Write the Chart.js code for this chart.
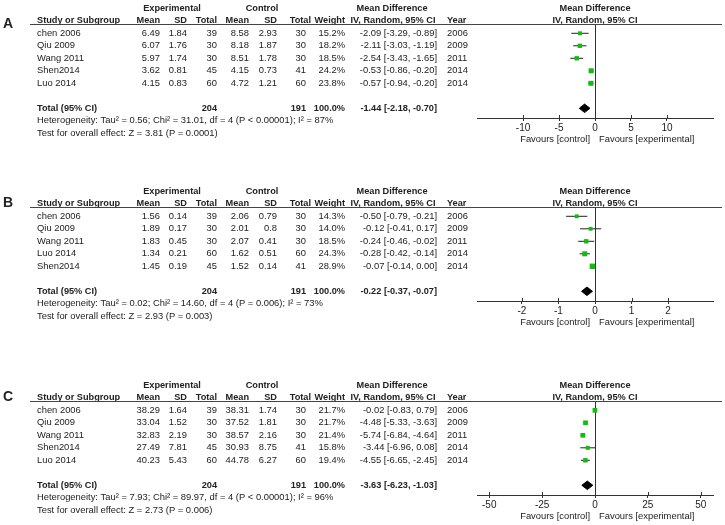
<!DOCTYPE html>
<html>
<head>
<meta charset="utf-8">
<script src="https://cdn.jsdelivr.net/npm/chart.js@4.4.1/dist/chart.umd.min.js"></script>
<style>
  body { margin:0; background:#fff; width:725px; height:525px; overflow:hidden; position:relative; }
  canvas { position:absolute; left:0; }
</style>
</head>
<body>
<canvas id="chartA" width="725" height="150" style="top:0px"></canvas>
<canvas id="chartB" width="725" height="150" style="top:183px"></canvas>
<canvas id="chartC" width="725" height="150" style="top:377px"></canvas>
<script>

// PANEL A DATA

var studiesA = ["chen 2006", "Qiu 2009", "Wang 2011", "Shen2014", "Luo 2014"];
var yearsA = [2006, 2009, 2011, 2014, 2014];
var expMeanA = [6.49, 6.07, 5.97, 3.62, 4.15];
var expSdA = [1.84, 1.76, 1.74, 0.81, 0.83];
var expNA = [39, 30, 30, 45, 60];
var ctlMeanA = [8.58, 8.18, 8.51, 4.15, 4.72];
var ctlSdA = [2.93, 1.87, 1.78, 0.73, 1.21];
var ctlNA = [30, 30, 30, 41, 60];
var weightA = [15.2, 18.2, 18.5, 24.2, 23.8];
var mdA = [-2.09, -2.11, -2.54, -0.53, -0.57];
var loA = [-3.29, -3.03, -3.43, -0.86, -0.94];
var hiA = [-0.89, -1.19, -1.65, -0.20, -0.20];
var totalA = [-1.44, -2.18, -0.70];
var hetA = "Heterogeneity: Tau\u00b2 = 0.56; Chi\u00b2 = 31.01, df = 4 (P < 0.00001); I\u00b2 = 87%";
var testA = "Test for overall effect: Z = 3.81 (P = 0.0001)";
var ticksA = [-10, -5, 0, 5, 10];

// PANEL B DATA

var studiesB = ["chen 2006", "Qiu 2009", "Wang 2011", "Luo 2014", "Shen2014"];
var yearsB = [2006, 2009, 2011, 2014, 2014];
var expMeanB = [1.56, 1.89, 1.83, 1.34, 1.45];
var expSdB = [0.14, 0.17, 0.45, 0.21, 0.19];
var expNB = [39, 30, 30, 60, 45];
var ctlMeanB = [2.06, 2.01, 2.07, 1.62, 1.52];
var ctlSdB = [0.79, 0.8, 0.41, 0.51, 0.14];
var ctlNB = [30, 30, 30, 60, 41];
var weightB = [14.3, 14.0, 18.5, 24.3, 28.9];
var mdB = [-0.50, -0.12, -0.24, -0.28, -0.07];
var loB = [-0.79, -0.41, -0.46, -0.42, -0.14];
var hiB = [-0.21, 0.17, -0.02, -0.14, 0.00];
var totalB = [-0.22, -0.37, -0.07];
var hetB = "Heterogeneity: Tau\u00b2 = 0.02; Chi\u00b2 = 14.60, df = 4 (P = 0.006); I\u00b2 = 73%";
var testB = "Test for overall effect: Z = 2.93 (P = 0.003)";
var ticksB = [-2, -1, 0, 1, 2];

// PANEL C DATA

var studiesC = ["chen 2006", "Qiu 2009", "Wang 2011", "Shen2014", "Luo 2014"];
var yearsC = [2006, 2009, 2011, 2014, 2014];
var expMeanC = [38.29, 33.04, 32.83, 27.49, 40.23];
var expSdC = [1.64, 1.52, 2.19, 7.81, 5.43];
var expNC = [39, 30, 30, 45, 60];
var ctlMeanC = [38.31, 37.52, 38.57, 30.93, 44.78];
var ctlSdC = [1.74, 1.81, 2.16, 8.75, 6.27];
var ctlNC = [30, 30, 30, 41, 60];
var weightC = [21.7, 21.7, 21.4, 15.8, 19.4];
var mdC = [-0.02, -4.48, -5.74, -3.44, -4.55];
var loC = [-0.83, -5.33, -6.84, -6.96, -6.65];
var hiC = [0.79, -3.63, -4.64, 0.08, -2.45];
var totalC = [-3.63, -6.23, -1.03];
var hetC = "Heterogeneity: Tau\u00b2 = 7.93; Chi\u00b2 = 89.97, df = 4 (P < 0.00001); I\u00b2 = 96%";
var testC = "Test for overall effect: Z = 2.73 (P = 0.006)";
var ticksC = [-50, -25, 0, 25, 50];

var expTotal = 204;
var ctlTotal = 191;

// FOREST PLOT PANEL

var FONT = '"Liberation Sans", Arial, sans-serif';
var TEXT = '#222';

function ci(md, lo, hi) {
  return md.toFixed(2) + " [" + lo.toFixed(2) + ", " + hi.toFixed(2) + "]";
}

function forest(id, letter, letterY, range, d) {

  var ciPoints = [];
  for (var i = 0; i < d.md.length; i++) {
    ciPoints.push({x: d.lo[i], y: i}, {x: d.hi[i], y: i}, {x: d.hi[i], y: null});
  }
  var squares = d.md.map(function (v, i) { return {x: v, y: i}; });
  var t = d.total;
  var totalRow = d.md.length + 1;
  var diamond = [
    {x: t[1], y: totalRow}, {x: t[0], y: totalRow - 0.34},
    {x: t[2], y: totalRow}, {x: t[0], y: totalRow + 0.34}, {x: t[1], y: totalRow}
  ];

  var tablePlugin = {
    id: 'table',
    afterDraw: function (chart) {
      var c = chart.ctx, ys = chart.scales.y, xs = chart.scales.x, area = chart.chartArea;
      var row = function (i) { return ys.getPixelForValue(i); };
      var put = function (text, px, py, align, bold) {
        c.font = (bold ? 'bold 9.2px ' : '9.4px ') + FONT;
        c.textAlign = align;
        c.fillText(text, px, py);
      };
      c.save();
      c.fillStyle = TEXT;
      c.textBaseline = 'middle';

      c.font = 'bold 14px ' + FONT;
      c.textAlign = 'left';
      c.fillText(letter, 3, letterY);

      // headers
      var mid = (area.left + area.right) / 2;
      put("Experimental", 172, row(-2), 'center', true);
      put("Control", 262, row(-2), 'center', true);
      put("Mean Difference", 392, row(-2), 'center', true);
      put("Mean Difference", mid, row(-2), 'center', true);
      put("Study or Subgroup", 37, row(-1), 'left', true);
      put("Mean", 160, row(-1), 'right', true);
      put("SD", 187, row(-1), 'right', true);
      put("Total", 217, row(-1), 'right', true);
      put("Mean", 249, row(-1), 'right', true);
      put("SD", 277, row(-1), 'right', true);
      put("Total", 311, row(-1), 'right', true);
      put("Weight", 345, row(-1), 'right', true);
      put("IV, Random, 95% CI", 393, row(-1), 'center', true);
      put("Year", 447, row(-1), 'left', true);
      put("IV, Random, 95% CI", mid, row(-1), 'center', true);

      c.strokeStyle = '#444';
      c.lineWidth = 1;
      c.beginPath();
      c.moveTo(30, Math.round(area.top) + 0.5);
      c.lineTo(722, Math.round(area.top) + 0.5);
      c.stroke();

      // study rows
      for (var i = 0; i < d.studies.length; i++) {
        var py = row(i);
        put(d.studies[i], 37, py, 'left');
        put(String(d.expMean[i]), 160, py, 'right');
        put(String(d.expSd[i]), 187, py, 'right');
        put(String(d.expN[i]), 217, py, 'right');
        put(String(d.ctlMean[i]), 249, py, 'right');
        put(String(d.ctlSd[i]), 277, py, 'right');
        put(String(d.ctlN[i]), 306, py, 'right');
        put(d.weight[i].toFixed(1) + "%", 345, py, 'right');
        put(ci(d.md[i], d.lo[i], d.hi[i]), 437, py, 'right');
        put(String(d.years[i]), 447, py, 'left');
      }

      // total
      var ty = row(totalRow);
      put("Total (95% CI)", 37, ty, 'left', true);
      put(String(expTotal), 217, ty, 'right', true);
      put(String(ctlTotal), 306, ty, 'right', true);
      put("100.0%", 345, ty, 'right', true);
      put(ci(t[0], t[1], t[2]), 437, ty, 'right', true);
      put(d.het, 37, row(totalRow + 1), 'left');
      put(d.test, 37, row(totalRow + 2), 'left');

      // favours
      var zero = xs.getPixelForValue(0);
      put("Favours [control]", zero - 5, area.bottom + 21, 'right');
      put("Favours [experimental]", zero + 4, area.bottom + 21, 'left');

      // tick stubs above the axis
      c.strokeStyle = '#333';
      c.beginPath();
      xs.ticks.forEach(function (tk) {
        var px = Math.round(xs.getPixelForValue(tk.value)) + 0.5;
        c.moveTo(px, area.bottom - 3);
        c.lineTo(px, area.bottom);
      });
      c.stroke();
      c.restore();
    }
  };

  return new Chart(id, {
    type: 'scatter',
    data: {
      datasets: [
        {
          data: squares,
          pointStyle: 'rect',
          pointRadius: function (ctx) { return Math.sqrt(d.weight[ctx.dataIndex]) * 0.72; },
          backgroundColor: '#17b817',
          borderWidth: 0
        },
        {
          data: ciPoints,
          showLine: true,
          spanGaps: false,
          pointRadius: 0,
          borderColor: '#222',
          borderWidth: 1
        },
        {
          type: 'line',
          data: diamond,
          pointRadius: 0,
          borderColor: '#000',
          backgroundColor: '#000',
          borderWidth: 1,
          fill: 'shape',
          tension: 0
        }
      ]
    },
    options: {
      responsive: false,
      animation: false,
      devicePixelRatio: 1,
      events: [],
      layout: { padding: { left: 477, right: 12, top: 24, bottom: 0 } },
      plugins: { legend: { display: false }, tooltip: { enabled: false } },
      scales: {
        x: {
          type: 'linear',
          min: -range,
          max: range,
          afterBuildTicks: function (s) { s.ticks = d.ticks.map(function (v) { return {value: v}; }); },
          afterFit: function (s) { s.height = 32; },
          border: { color: '#333', width: 1 },
          grid: {
            color: function (ctx) { return ctx.tick && ctx.tick.value === 0 ? '#333' : 'rgba(0,0,0,0)'; },
            tickColor: '#333',
            tickLength: 3,
            lineWidth: 1
          },
          ticks: { color: TEXT, font: { family: FONT, size: 10 }, padding: 1, maxRotation: 0, autoSkip: false }
        },
        y: { type: 'linear', display: false, reverse: true, min: -0.744, max: 6.776 }
      }
    },
    plugins: [tablePlugin]
  });
}

// THE THREE PANELS

forest('chartA', 'A', 24, 16.4, {
  studies: studiesA, years: yearsA, expMean: expMeanA, expSd: expSdA, expN: expNA,
  ctlMean: ctlMeanA, ctlSd: ctlSdA, ctlN: ctlNA, weight: weightA,
  md: mdA, lo: loA, hi: hiA, total: totalA, het: hetA, test: testA, ticks: ticksA
});

forest('chartB', 'B', 20, 3.23, {
  studies: studiesB, years: yearsB, expMean: expMeanB, expSd: expSdB, expN: expNB,
  ctlMean: ctlMeanB, ctlSd: ctlSdB, ctlN: ctlNB, weight: weightB,
  md: mdB, lo: loB, hi: hiB, total: totalB, het: hetB, test: testB, ticks: ticksB
});

forest('chartC', 'C', 20, 55.8, {
  studies: studiesC, years: yearsC, expMean: expMeanC, expSd: expSdC, expN: expNC,
  ctlMean: ctlMeanC, ctlSd: ctlSdC, ctlN: ctlNC, weight: weightC,
  md: mdC, lo: loC, hi: hiC, total: totalC, het: hetC, test: testC, ticks: ticksC
});
</script>
</body>
</html>
